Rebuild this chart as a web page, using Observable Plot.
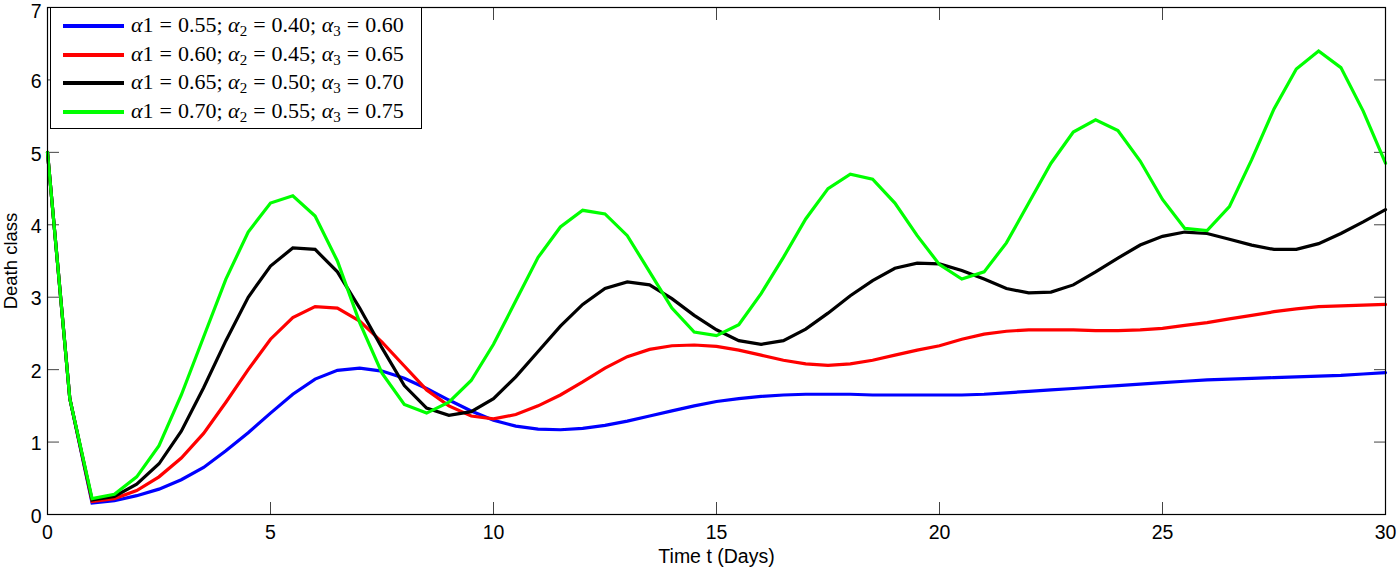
<!DOCTYPE html>
<html>
<head>
<meta charset="utf-8">
<script src="https://cdn.jsdelivr.net/npm/d3@7"></script>
<script src="https://cdn.jsdelivr.net/npm/@observablehq/plot@0.6"></script>
<style>
  html, body { margin: 0; padding: 0; background: #fff; }
  #wrap { position: relative; width: 1397px; height: 569px; }
  #legend {
    position: absolute; left: 50px; top: 7px; width: 370px; height: 120px;
    border: 1px solid #000; background: #fff; box-sizing: content-box;
    font-family: "Liberation Serif", "DejaVu Serif", serif; font-size: 22px; color: #000;
  }
  .row { position: absolute; left: 0; height: 28px; display: flex; align-items: center; white-space: nowrap; }
  .sw { width: 61px; height: 4px; margin-left: 12px; margin-right: 7px; }
  .row i { font-style: italic; }
  .eq { margin: 0 6px; }
  .sub { font-size: 15px; vertical-align: -4px; }
</style>
</head>
<body>
<div id="wrap"></div>
<script>
const t = [0,0.5,1,1.5,2,2.5,3,3.5,4,4.5,5,5.5,6,6.5,7,7.5,8,8.5,9,9.5,10,10.5,11,11.5,12,12.5,13,13.5,14,14.5,15,15.5,16,16.5,17,17.5,18,18.5,19,19.5,20,20.5,21,21.5,22,22.5,23,23.5,24,24.5,25,25.5,26,26.5,27,27.5,28,28.5,29,29.5,30];

const blue = [5,1.6,0.16,0.19,0.26,0.35,0.48,0.65,0.88,1.13,1.4,1.66,1.87,1.99,2.02,1.98,1.88,1.74,1.58,1.43,1.3,1.22,1.18,1.17,1.19,1.23,1.29,1.36,1.43,1.5,1.56,1.6,1.63,1.65,1.66,1.66,1.66,1.65,1.65,1.65,1.65,1.65,1.66,1.68,1.7,1.72,1.74,1.76,1.78,1.8,1.82,1.84,1.86,1.87,1.88,1.89,1.9,1.91,1.92,1.94,1.96];

const red = [5,1.6,0.18,0.22,0.33,0.52,0.78,1.12,1.55,2.0,2.42,2.72,2.87,2.85,2.67,2.38,2.05,1.72,1.5,1.36,1.32,1.38,1.5,1.65,1.83,2.02,2.18,2.28,2.33,2.34,2.32,2.27,2.2,2.13,2.08,2.06,2.08,2.13,2.2,2.27,2.33,2.42,2.49,2.53,2.55,2.55,2.55,2.54,2.54,2.55,2.57,2.61,2.65,2.7,2.75,2.8,2.84,2.87,2.88,2.89,2.9];

const black = [5,1.6,0.2,0.25,0.42,0.7,1.15,1.75,2.4,3.0,3.43,3.68,3.66,3.35,2.85,2.3,1.78,1.47,1.37,1.42,1.6,1.9,2.25,2.6,2.9,3.12,3.21,3.17,2.98,2.75,2.55,2.4,2.35,2.4,2.56,2.78,3.02,3.23,3.4,3.47,3.46,3.37,3.25,3.12,3.06,3.07,3.17,3.35,3.54,3.72,3.84,3.9,3.88,3.8,3.72,3.66,3.66,3.74,3.88,4.04,4.21];

const green = [5,1.6,0.22,0.28,0.52,0.95,1.65,2.45,3.25,3.9,4.3,4.4,4.12,3.5,2.65,1.95,1.52,1.4,1.55,1.85,2.35,2.95,3.55,3.97,4.2,4.15,3.85,3.35,2.85,2.52,2.47,2.62,3.05,3.55,4.08,4.5,4.7,4.63,4.3,3.85,3.45,3.25,3.35,3.75,4.3,4.85,5.28,5.45,5.3,4.88,4.35,3.95,3.92,4.25,4.9,5.6,6.15,6.4,6.17,5.57,4.85];

const seriesColors = ["#0000ff","#ff0000","#000000","#00ff00"];
const seriesValues = [blue, red, black, green];
const legendLabels = [
  ["0.55","0.40","0.60"],
  ["0.60","0.45","0.65"],
  ["0.65","0.50","0.70"],
  ["0.70","0.55","0.75"]
];
const xTicks = [0,5,10,15,20,25,30];
const yTicks = [0,1,2,3,4,5,6,7];

const lineMarks = seriesValues.map((vals, i) =>
  Plot.line(t.map((x, j) => ({x, y: vals[j]})), {x: "x", y: "y", stroke: seriesColors[i], strokeWidth: 3.2, strokeLinejoin: "miter", strokeMiterlimit: 4})
);

const chart = Plot.plot({
  width: 1397,
  height: 569,
  marginLeft: 47,
  marginRight: 12,
  marginTop: 7,
  marginBottom: 55,
  style: {fontFamily: "'Liberation Sans', Arial, sans-serif", fontSize: "19.5px", color: "#000", background: "#fff"},
  x: {domain: [0, 30]},
  y: {domain: [0, 7]},
  marks: [
    Plot.axisX(xTicks, {anchor: "bottom", tickSize: -12, tickPadding: 23, stroke: "#444", tickFormat: "d", label: "Time t (Days)", labelAnchor: "center", labelArrow: "none", labelOffset: 48}),
    Plot.axisX(xTicks, {anchor: "top", tickSize: -12, stroke: "#444", tickFormat: () => "", label: null}),
    Plot.axisY(yTicks, {anchor: "left", tickSize: -12, stroke: "#444", tickFormat: () => "", label: null}),
    Plot.axisY(yTicks.slice(0, -1), {anchor: "left", tickSize: 0, tickPadding: 6, tickFormat: "d", dy: 2, label: null}),
    Plot.axisY(yTicks.slice(-1), {anchor: "left", tickSize: 0, tickPadding: 6, tickFormat: "d", dy: 4, label: null}),
    Plot.axisY({anchor: "left", ticks: [], label: "Death class", labelAnchor: "center", labelArrow: "none", labelOffset: 44, fontSize: 18.5}),
    Plot.axisY(yTicks, {anchor: "right", tickSize: -12, stroke: "#444", tickFormat: () => "", label: null}),
    ...lineMarks,
    Plot.frame({stroke: "#000", strokeWidth: 1.2})
  ]
});

const wrap = document.getElementById("wrap");
wrap.appendChild(chart);

const legend = document.createElement("div");
legend.id = "legend";
legendLabels.forEach((lab, i) => {
  const row = document.createElement("div");
  row.className = "row";
  row.style.top = (4 + i * 28.6) + "px";
  row.innerHTML = `<div class="sw" style="background:${seriesColors[i]}"></div>` +
    `<span><i>α</i>1<span class="eq">=</span>${lab[0]}; <i>α</i><span class="sub">2</span><span class="eq">=</span>${lab[1]}; <i>α</i><span class="sub">3</span><span class="eq">=</span>${lab[2]}</span>`;
  legend.appendChild(row);
});
wrap.appendChild(legend);
</script>
</body>
</html>
